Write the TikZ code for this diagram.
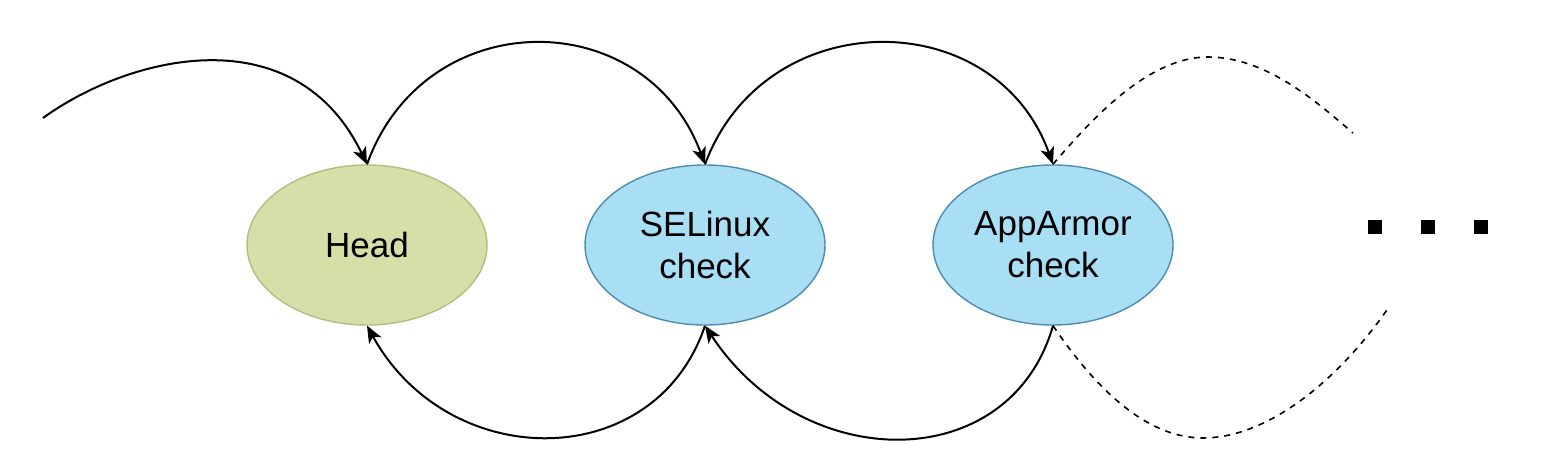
\documentclass[tikz,border=0pt]{standalone}
\usepackage{fontspec}
\setmainfont{Liberation Sans}
\usetikzlibrary{shapes.geometric,arrows.meta}
\definecolor{headfill}{HTML}{D7DFA8}
\definecolor{headline}{HTML}{B4BC84}
\definecolor{chkfill}{HTML}{A8DFF5}
\definecolor{chkline}{HTML}{4E8CAE}
\tikzset{
  stateell/.style={ellipse, inner sep=0pt, minimum width=120pt, minimum height=80pt,
    line width=0.7pt, align=center, font=\fontsize{17.5}{21}\selectfont},
  headell/.style={stateell, fill=headfill, draw=headline},
  chkell/.style={stateell, fill=chkfill, draw=chkline},
  link/.style={line width=1pt, -{Stealth[length=8.5pt,width=7pt,inset=2.2pt]}},
  dashlink/.style={line width=0.8pt, dash pattern=on 3pt off 3pt},
  dotsq/.style={fill=black, inner sep=0pt, minimum size=7pt}
}
\begin{document}
\begin{tikzpicture}[x=0.5pt,y=-0.5pt]
\useasboundingbox (0,0) rectangle (1554,476);
\node[headell] (h) at (367,245) {Head};
\node[chkell] (s) at (705,245) {SELinux\\check};
\node[chkell] (a) at (1053,245) {AppArmor\\check};
\coordinate (in) at (43,118);
\coordinate (dtop) at (1353,133);
\coordinate (dbot) at (1389,307);
\node[dotsq] (d1) at (1375,227) {};
\node[dotsq] (d2) at (1428,227) {};
\node[dotsq] (d3) at (1481,227) {};
% top forward arrows
\draw[link] (in) .. controls (130,55) and (295,15) .. (h.north);
\draw[link] (h.north) .. controls (425,3) and (645,3) .. (s.north);
\draw[link] (s.north) .. controls (765,3) and (995,3) .. (a.north);
% bottom backward arrows
\draw[link] (s.south) .. controls (655,474) and (449,474) .. (h.south);
\draw[link] (a.south) .. controls (1010,476) and (804,476) .. (s.south);
% dashed continuations
\draw[dashlink] (a.north) .. controls (1095,115) and (1150,57) .. (1208,57)
   .. controls (1268,57) and (1320,105) .. (dtop);
\draw[dashlink] (a.south) .. controls (1100,395) and (1150,438) .. (1203,438)
   .. controls (1265,438) and (1335,385) .. (dbot);
\end{tikzpicture}
\end{document}
